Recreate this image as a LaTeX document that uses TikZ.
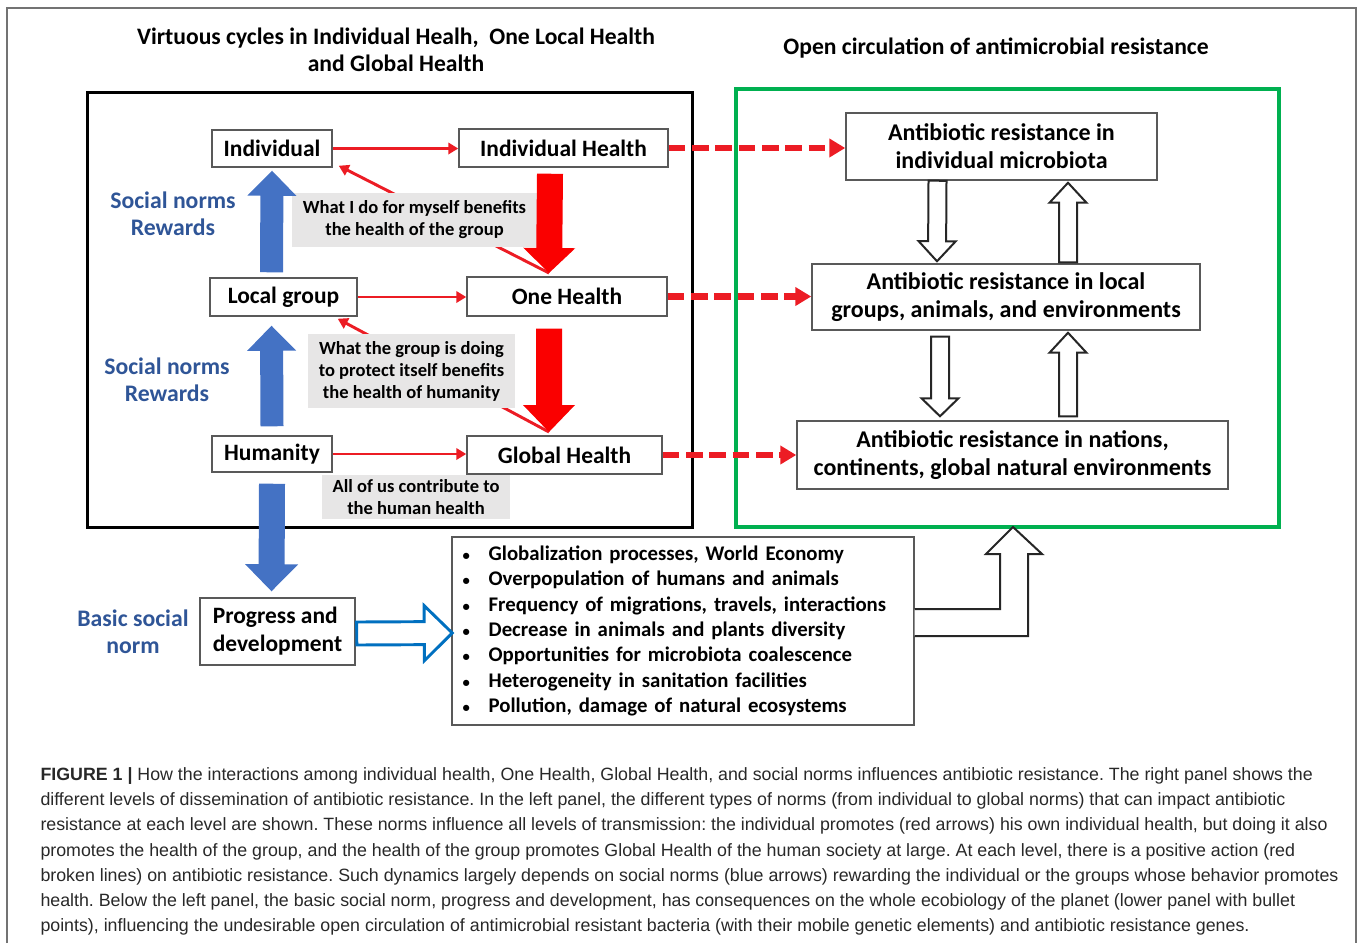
\documentclass[tikz,border=0pt]{standalone}
\usepackage{fontspec}
\setmainfont{Carlito}
\newfontfamily\captionfont{Liberation Sans}
\usetikzlibrary{arrows.meta,calc}

\definecolor{arrowred}{RGB}{236,28,36}
\definecolor{blockred}{RGB}{250,0,0}
\definecolor{normblue}{RGB}{47,85,151}
\definecolor{fillblue}{RGB}{68,114,196}
\definecolor{lineblue}{RGB}{0,112,192}
\definecolor{framegreen}{RGB}{0,176,80}
\definecolor{notegray}{RGB}{231,230,230}
\definecolor{boxgray}{RGB}{89,89,89}
\definecolor{captext}{RGB}{40,40,40}

\tikzset{every picture/.style={line width=0.75pt}}
\tikzset{
  boxsize/.style 2 args={minimum width=#1*0.75pt, minimum height=#2*0.75pt},
  box/.style={draw=boxgray, line width=1.1pt, fill=white, inner sep=0pt, align=center,
    font=\bfseries\fontsize{17.6}{21}\selectfont},
  note/.style={fill=notegray, inner sep=0pt, align=center,
    font=\bfseries\fontsize{13.9}{16.5}\selectfont},
  normlabel/.style={text=normblue, align=center, inner sep=0pt,
    font=\bfseries\fontsize{17.8}{20.25}\selectfont},
  thinred/.style={draw=arrowred, line width=2.2pt, -{Triangle[width=8.5pt,length=7.5pt]}},
  dashred/.style={draw=arrowred, line width=5pt, dash pattern=on 12.5pt off 5pt,
    -{Triangle[width=13.5pt,length=12pt]}},
  solidblue/.style={fill=fillblue},
  solidred/.style={fill=blockred},
  hollowblue/.style={draw=lineblue, line width=2.2pt, fill=white},
  hollowblack/.style={draw=black!85, line width=1.5pt, fill=white},
}
% block arrow: style, start, end, shaft half width, head half width, head length (px)
\newcommand{\blockarrow}[6]{%
  \path[#1] let \p1=#2, \p2=#3, \n1={veclen(\x2-\x1,\y2-\y1)}, \n2={atan2(\y2-\y1,\x2-\x1)} in
    [shift={(\x1,\y1)}, rotate=\n2]
    (0pt,{#4*0.75pt}) -- ({\n1-#6*0.75pt},{#4*0.75pt}) -- ({\n1-#6*0.75pt},{#5*0.75pt})
    -- ({\n1},0pt) -- ({\n1-#6*0.75pt},{-#5*0.75pt}) -- ({\n1-#6*0.75pt},{-#4*0.75pt})
    -- (0pt,{-#4*0.75pt}) -- cycle;}
\newcommand{\bul}{\makebox[19.5pt][l]{\fontsize{11}{11}\selectfont\textbullet}}

\begin{document}
\begin{tikzpicture}[x=0.75pt,y=-0.75pt]
\useasboundingbox (0,0) rectangle (1358,943);

% Outer frame
\draw[draw=black!55, line width=1.1pt] (7,943) -- (7,8) -- (1356,8) -- (1356,943);

% Titles
\node[align=center, font=\bfseries\fontsize{17.7}{20.25}\selectfont] (lefttitle) at (396,50)
  {Virtuous cycles in Individual Healh,\ \ One Local Health\\and Global Health};
\node[font=\bfseries\fontsize{17.7}{20.25}\selectfont] (righttitle) at (996,48)
  {Open circulation of antimicrobial resistance};

% Panels
\draw[line width=2.25pt] (87,92) rectangle (692,527);
\draw[draw=framegreen, line width=2.6pt] (736,89) rectangle (1279,527);

% Text Node
\node[box, boxsize={120}{37}] (indiv) at (272,148.5) {Individual};
% Text Node
\node[box, boxsize={209}{38}] (indhealth) at (563.5,148) {Individual Health};
% Text Node
\node[box, boxsize={147}{38}] (local) at (283.5,297) {Local group};
% Text Node
\node[box, boxsize={200}{39}] (onehealth) at (567,296.5) {One Health};
% Text Node
\node[box, boxsize={120}{36}] (humanity) at (272,454) {Humanity};
% Text Node
\node[box, boxsize={195}{38}] (globalhealth) at (564.5,455) {Global Health};
% Text Node
\node[box, boxsize={155}{67}, align=left] (progress) at (277.5,631.5) {Progress and\\development};
% Text Node
\node[box, font=\bfseries\fontsize{15.6}{19}\selectfont, align=left, text width=330.5pt,
  inner xsep=8pt, minimum height=141pt] (bullets) at (683,631)
  {\bul Globalization processes, World Economy\\
   \bul Overpopulation of humans and animals\\
   \bul Frequency of migrations, travels, interactions\\
   \bul Decrease in animals and plants diversity\\
   \bul Opportunities for microbiota coalescence\\
   \bul Heterogeneity in sanitation facilities\\
   \bul Pollution, damage of natural ecosystems};
% Text Node
\node[box, boxsize={311}{67}, font=\bfseries\fontsize{18}{21}\selectfont] (resA) at (1001.5,146.5) {Antibiotic resistance in\\individual microbiota};
% Text Node
\node[box, boxsize={388}{66}, font=\bfseries\fontsize{18}{21}\selectfont] (resB) at (1006,297) {Antibiotic resistance in local\\groups, animals, and environments};
% Text Node
\node[box, boxsize={431}{68}, font=\bfseries\fontsize{18}{21}\selectfont] (resC) at (1012.5,455) {Antibiotic resistance in nations,\\continents, global natural environments};

% Diagonal links (behind the notes)
\coordinate (tip1) at (549,273);
\coordinate (tip2) at (549,432);
\draw[thinred] (tip1) -- ($(indiv.south east)+(6,-2)$);
\draw[thinred] (tip2) -- ($(local.south east)+(-20,2)$);

% Notes
\node[note, boxsize={245}{54}] (note1) at (414.5,220) {What I do for myself benefits\\the health of the group};
\node[note, boxsize={207}{74}] (note2) at (411.5,371) {What the group is doing\\to protect itself benefits\\the health of humanity};
\node[note, boxsize={188}{44}] (note3) at (416,497) {All of us contribute to\\the human health};

% Norm labels
\node[normlabel] (norm1) at (173,214) {Social norms\\Rewards};
\node[normlabel] (norm2) at (167,380) {Social norms\\Rewards};
\node[normlabel] (norm3) at (133,632) {Basic social\\norm};

% Connection
\draw[thinred] (indiv.east) -- (indhealth.west |- indiv.east);
% Connection
\draw[thinred] (local.east) -- (onehealth.west |- local.east);
% Connection
\draw[thinred] (humanity.east) -- (globalhealth.west |- humanity.east);

% Connection
\draw[dashred] (indhealth.east) -- (indhealth.east -| resA.west);
% Connection
\draw[dashred] (onehealth.east) -- (onehealth.east -| resB.west);
% Connection
\draw[dashred] (globalhealth.east) -- (globalhealth.east -| resC.west);

% Block arrows, red
\blockarrow{solidred}{($(indhealth.south)+(-13.5,6)$)}{(tip1)}{13}{26}{25}
\blockarrow{solidred}{($(onehealth.south)+(-18,12)$)}{(tip2)}{13}{26}{27}

% Block arrows, blue
\blockarrow{solidblue}{($(local.north)+(-12,-5)$)}{($(indiv.south)+(0,3)$)}{11.5}{24.5}{25}
\blockarrow{solidblue}{($(humanity.north)+(0,-9)$)}{($(local.south)+(-12,9)$)}{11.5}{24.5}{25}
\blockarrow{solidblue}{($(humanity.south)+(0,11)$)}{($(progress.north)+(-6,-6)$)}{13}{26.5}{27}
\blockarrow{hollowblue}{($(progress.east)+(1,2)$)}{($(bullets.west)+(1,2)$)}{11.5}{27.5}{28}

% Block arrows, between resistance levels
\blockarrow{hollowblack}{($(resA.south)+(-64,0)$)}{($(resB.north)+(-69,-2)$)}{9}{18.5}{20}
\blockarrow{hollowblack}{($(resB.north)+(62,-1)$)}{($(resA.south)+(66.5,2)$)}{9}{18.5}{20}
\blockarrow{hollowblack}{($(resB.south)+(-66,6)$)}{($(resC.north)+(-72.5,-4)$)}{9}{18.5}{18}
\blockarrow{hollowblack}{($(resC.north)+(55.5,-4)$)}{($(resB.south)+(62,2)$)}{9}{18.5}{20}

% Elbow arrow to the right panel
\coordinate (elbowtip) at (1013,527);
\draw[hollowblack] ($(bullets.east)+(0,-22)$) -- ($(elbowtip)+(-13,82)$) -- ($(elbowtip)+(-13,27)$)
  -- ($(elbowtip)+(-27,27)$) -- (elbowtip) -- ($(elbowtip)+(29,27)$) -- ($(elbowtip)+(15,27)$)
  -- ($(elbowtip)+(15,109)$) -- ($(bullets.east)+(0,5)$);

% Caption
\node[anchor=north west, align=left, inner sep=0pt, text=captext,
  font=\captionfont\frenchspacing\fontsize{13.35}{18.9}\selectfont] (caption) at (40,767)
  {\textbf{FIGURE 1 |} How the interactions among individual health, One Health, Global Health, and social norms influences antibiotic resistance. The right panel shows the\\
   different levels of dissemination of antibiotic resistance. In the left panel, the different types of norms (from individual to global norms) that can impact antibiotic\\
   resistance at each level are shown. These norms influence all levels of transmission: the individual promotes (red arrows) his own individual health, but doing it also\\
   promotes the health of the group, and the health of the group promotes Global Health of the human society at large. At each level, there is a positive action (red\\
   broken lines) on antibiotic resistance. Such dynamics largely depends on social norms (blue arrows) rewarding the individual or the groups whose behavior promotes\\
   health. Below the left panel, the basic social norm, progress and development, has consequences on the whole ecobiology of the planet (lower panel with bullet\\
   points), influencing the undesirable open circulation of antimicrobial resistant bacteria (with their mobile genetic elements) and antibiotic resistance genes.};

\end{tikzpicture}
\end{document}
